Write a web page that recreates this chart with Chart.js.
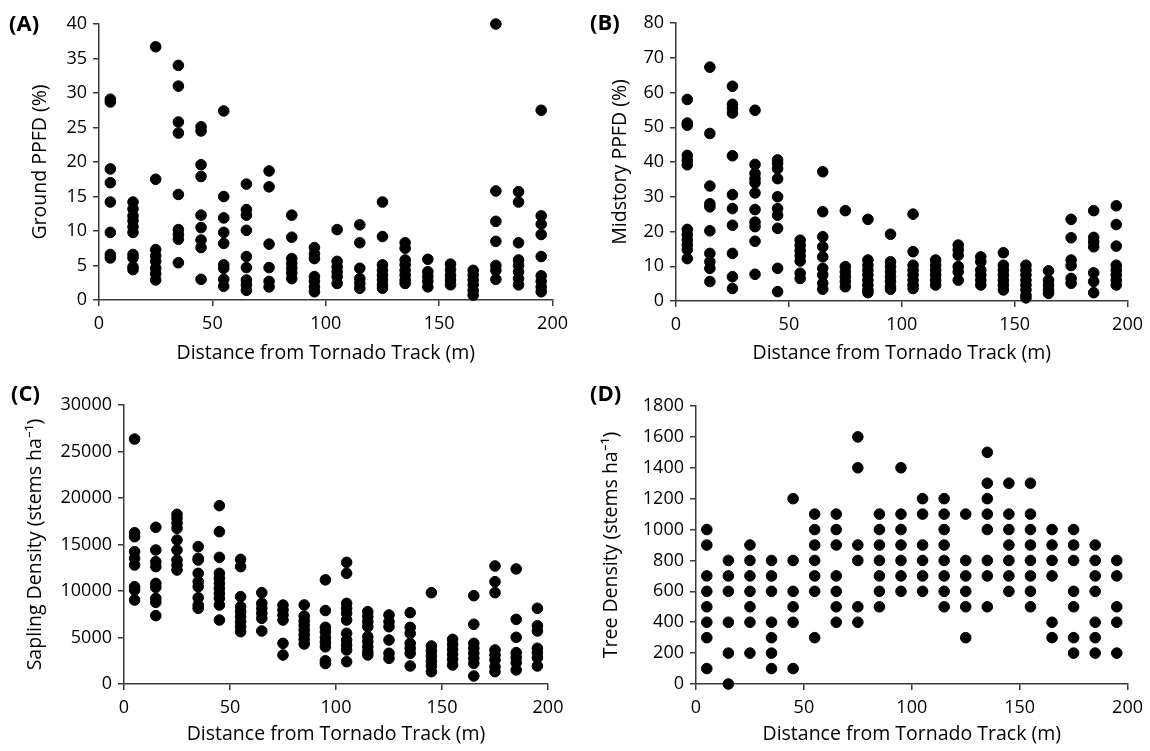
<!DOCTYPE html>
<html>
<head>
<meta charset="utf-8">
<script src="https://cdn.jsdelivr.net/npm/chart.js@4.4.1/dist/chart.umd.min.js"></script>
<style>
  body { margin: 0; background: #fff; }
  #wrap { position: relative; width: 1150px; height: 751px; }
  canvas { position: absolute; }
  .rotulo { position: absolute; font-family: "Open Sans", sans-serif; font-weight: bold; font-size: 22px; color: #000; }
</style>
</head>
<body>
<div id="wrap">
  <canvas id="graficoA" width="575" height="370" style="left:0;top:0"></canvas>
  <canvas id="graficoB" width="575" height="370" style="left:575px;top:0"></canvas>
  <canvas id="graficoC" width="575" height="376" style="left:0;top:375px"></canvas>
  <canvas id="graficoD" width="575" height="376" style="left:575px;top:375px"></canvas>
  <div class="rotulo" style="left:9px;top:7px">(A)</div>
  <div class="rotulo" style="left:590px;top:6px">(B)</div>
  <div class="rotulo" style="left:11px;top:377px">(C)</div>
  <div class="rotulo" style="left:590px;top:377px">(D)</div>
</div>
<script>
// distancia do centro da trilha do tornado (m)
const distancias = [5, 15, 25, 35, 45, 55, 65, 75, 85, 95, 105, 115, 125, 135, 145, 155, 165, 175, 185, 195];
const ticksX = [0, 50, 100, 150, 200];

// (A) Ground PPFD (%) - uma lista por distancia
const groundPPFD = [
  [29.1, 28.7, 19, 17, 14.2, 9.8, 6.6, 6.1],
  [14.2, 13.2, 12.2, 11.5, 10.6, 9.8, 6.6, 6.1, 4.8, 4.4],
  [36.7, 17.5, 7.3, 6.4, 5.6, 4.6, 3.8, 2.9],
  [34, 31, 25.8, 24.2, 15.3, 10.2, 9.5, 8.8, 5.4],
  [25.1, 24.5, 19.6, 17.9, 12.3, 10.5, 8.7, 7.6, 3],
  [27.4, 15, 11.9, 9.8, 8.2, 5.1, 4.6, 3, 2],
  [16.8, 13.1, 12.3, 10.1, 6.3, 4.7, 2.9, 2.2, 1.4],
  [18.7, 16.4, 8.1, 4.7, 2.7, 1.9],
  [12.3, 9.1, 6, 5.3, 4.6, 3.9, 3.1],
  [7.6, 6.7, 6, 3.4, 2.7, 1.9, 1.2],
  [10.2, 5.6, 4.8, 4.1, 3.4, 2.4],
  [10.9, 8.3, 4.6, 3.1, 2.4, 1.7],
  [14.2, 9.2, 5.1, 4.3, 3.6, 2.9, 2.2, 1.7],
  [8.3, 7.5, 5.8, 5.1, 4.3, 3.6, 2.9, 2.4],
  [5.9, 4.1, 3.4, 2.7, 1.9],
  [5.2, 4.4, 3.6, 2.9, 2.2],
  [4.3, 3.6, 2.9, 2.2, 1.4, 0.7],
  [40, 15.8, 11.4, 8.5, 5, 4.3, 3],
  [15.7, 14.2, 8.3, 5.8, 5, 4.1, 3.1, 2.2],
  [27.5, 12.2, 11, 9.5, 6.3, 3.5, 2.7, 1.9, 1.2]
];

// (B) Midstory PPFD (%)
const midstoryPPFD = [
  [58, 51.2, 50.6, 41.9, 40.5, 39.2, 20.6, 19.1, 17.6, 16.2, 14.8, 12.2],
  [67.3, 48.2, 33.1, 28, 27.1, 20.2, 13.7, 11.3, 9.4, 5.6],
  [61.8, 56.6, 55.4, 54.1, 41.8, 30.6, 26.6, 21.8, 13.7, 7, 3.6],
  [54.9, 39.3, 36.7, 35.2, 34, 31.1, 26.3, 22.7, 21.4, 17.2, 7.7],
  [40.6, 39.6, 38.1, 35.2, 30, 26.6, 24.7, 20.9, 9.4, 2.7],
  [17.5, 16, 14.5, 13, 11.5, 8, 6.5],
  [37.2, 25.7, 18.5, 15.6, 12.7, 9.4, 7.5, 5.1, 3.4],
  [26, 9.9, 8.4, 7, 5.6, 4.1],
  [23.5, 11.8, 10.3, 8.9, 7.5, 6, 4.6, 3.2, 2.4],
  [19.2, 11.3, 9.9, 8.4, 7, 5.6, 4.1, 3.4],
  [25, 14.2, 10.3, 8.9, 7.5, 6, 4.6, 3.6],
  [11.8, 10.3, 8.9, 7.5, 6, 4.6],
  [16.1, 14.7, 13.2, 9.9, 8.4, 6],
  [12.7, 11.3, 8.9, 7.5, 6, 4.6],
  [13.9, 10.3, 8.9, 7.5, 6, 4.6, 3.2],
  [10.3, 8.9, 7.5, 6, 4.6, 3.2, 1.7, 0.9],
  [8.7, 6, 4.6, 3.2, 2.2],
  [23.5, 18.2, 11.8, 10.2, 6.5, 5.1],
  [26, 18.3, 17, 15.6, 8.1, 5.6, 2.4],
  [27.4, 22, 15.8, 10.3, 8.9, 7.5, 6, 4.6]
];

// (C) Sapling density (stems/ha)
const saplingDensity = [
  [26340, 16270, 15840, 14230, 13510, 12800, 10470, 10110, 9030],
  [16850, 14410, 13150, 12620, 10820, 10390, 9210, 8780, 7350],
  [18240, 17810, 17280, 16740, 15480, 14410, 13330, 12800, 12260],
  [14770, 13510, 13330, 11900, 11000, 10470, 9280, 8490, 8140],
  [19180, 16380, 13620, 11900, 11360, 10820, 10290, 9750, 9210, 8490, 6880],
  [13400, 12620, 9390, 8320, 7780, 7240, 6700, 6160, 5630],
  [9820, 8670, 8140, 7600, 7060, 5700],
  [8490, 7960, 7420, 6880, 4370, 3120],
  [8500, 7300, 6800, 6300, 5800, 5300, 4800, 4300],
  [11200, 7900, 6100, 5600, 5000, 4500, 4000, 2500, 2200],
  [13080, 11900, 8670, 8140, 7600, 6880, 5450, 4730, 4190, 3660, 2400],
  [7780, 7240, 6700, 6160, 5090, 4550, 4010, 3480, 3120],
  [7420, 6700, 6160, 4730, 3300, 2760],
  [7670, 6090, 5450, 4370, 3840, 3300, 1940],
  [9820, 4090, 3550, 3010, 2470, 1940, 1330],
  [4800, 4270, 3730, 3190, 2650, 2040],
  [9500, 6420, 4370, 3840, 3300, 2760, 2220, 860],
  [12690, 11000, 9820, 3660, 3120, 2580, 1860, 1330],
  [12370, 6950, 5020, 3370, 2830, 2290, 1510],
  [8140, 6270, 5700, 3840, 3370, 2830, 1940]
];

// (D) Tree density (stems/ha)
const treeDensity = [
  [1000, 900, 700, 600, 500, 400, 300, 100],
  [800, 700, 600, 400, 200, 0],
  [900, 800, 700, 600, 500, 400, 200],
  [800, 700, 600, 400, 300, 200, 100],
  [1200, 800, 600, 500, 400, 100],
  [1100, 1000, 900, 800, 700, 600, 300],
  [1100, 1000, 900, 700, 600, 500, 400],
  [1600, 1400, 900, 800, 500, 400],
  [1100, 1000, 900, 800, 700, 600, 500],
  [1400, 1100, 1000, 900, 800, 700, 600],
  [1200, 1100, 900, 800, 700, 600],
  [1200, 1100, 1000, 900, 800, 700, 600, 500],
  [1100, 800, 700, 600, 500, 300],
  [1500, 1300, 1200, 1100, 1000, 800, 700, 500],
  [1300, 1100, 1000, 900, 800, 700, 600],
  [1300, 1100, 1000, 900, 800, 700, 600, 500],
  [1000, 900, 800, 700, 400, 300],
  [1000, 900, 800, 600, 500, 300, 200],
  [900, 800, 700, 600, 400, 300, 200],
  [800, 700, 500, 400, 200]
];

const fonteTicks = { family: "'Open Sans', sans-serif", size: 18 };
const fonteTitulo = { family: "'Open Sans', sans-serif", size: 19.5 };
const corEixo = "#3a3a3a";

// transforma as listas por distancia em pontos {x, y}
function montarPontos(valores) {
  const pontos = [];
  valores.forEach((lista, i) => {
    lista.forEach((v) => pontos.push({ x: distancias[i], y: v }));
  });
  return pontos;
}

// cria um painel de dispersao
function gerarPainel(id, valores, yMax, passo, tituloY, caixa) {
  const ctx = document.getElementById(id).getContext("2d");
  new Chart(ctx, {
    type: "scatter",
    data: {
      datasets: [
        {
          data: montarPontos(valores),
          backgroundColor: "#000",
          borderColor: "#000",
          pointRadius: 5.3,
          pointHoverRadius: 5.3,
          clip: false,
        },
      ],
    },
    options: {
      responsive: false,
      animation: false,
      events: [],
      layout: {
        padding: { left: caixa.padLeft, top: caixa.top, right: caixa.padRight, bottom: 0 },
      },
      plugins: { legend: { display: false }, tooltip: { enabled: false } },
      scales: {
        x: {
          type: "linear",
          min: 0,
          max: 200,
          afterBuildTicks: (s) => { s.ticks = ticksX.map((v) => ({ value: v })); },
          afterFit: (s) => { s.height = caixa.alturaX; },
          ticks: { color: "#000", font: fonteTicks, padding: 7, maxRotation: 0, callback: (v) => String(v) },
          grid: { drawOnChartArea: false, drawTicks: true, tickLength: 6, color: corEixo, lineWidth: 1.5 },
          border: { display: true, color: corEixo, width: 1.5 },
          title: { display: true, text: "Distance from Tornado Track (m)", color: "#000", font: fonteTitulo, padding: { top: 2, bottom: 5 } },
        },
        y: {
          min: 0,
          max: yMax,
          ticks: { stepSize: passo, color: "#000", font: fonteTicks, padding: 6, callback: (v) => String(v) },
          afterFit: (s) => { s.width = caixa.larguraY; },
          grid: { drawOnChartArea: false, drawTicks: true, tickLength: 6, color: corEixo, lineWidth: 1.5 },
          border: { display: true, color: corEixo, width: 1.5 },
          title: { display: true, text: tituloY, color: "#000", font: fonteTitulo, padding: { top: 4, bottom: 2 } },
        },
      },
    },
  });
}

gerarPainel("graficoA", groundPPFD, 40, 5, "Ground PPFD (%)",
  { padLeft: 25, larguraY: 74, top: 24, padRight: 18, alturaX: 70 });
gerarPainel("graficoB", midstoryPPFD, 80, 10, "Midstory PPFD (%)",
  { padLeft: 30, larguraY: 71, top: 23, padRight: 20, alturaX: 69 });
gerarPainel("graficoC", saplingDensity, 30000, 5000, "Sapling Density (stems ha\u207B\u00B9)",
  { padLeft: 20, larguraY: 104, top: 30, padRight: 27, alturaX: 67 });
gerarPainel("graficoD", treeDensity, 1800, 200, "Tree Density (stems ha\u207B\u00B9)",
  { padLeft: 21, larguraY: 100, top: 31, padRight: 20, alturaX: 67 });
</script>
</body>
</html>
